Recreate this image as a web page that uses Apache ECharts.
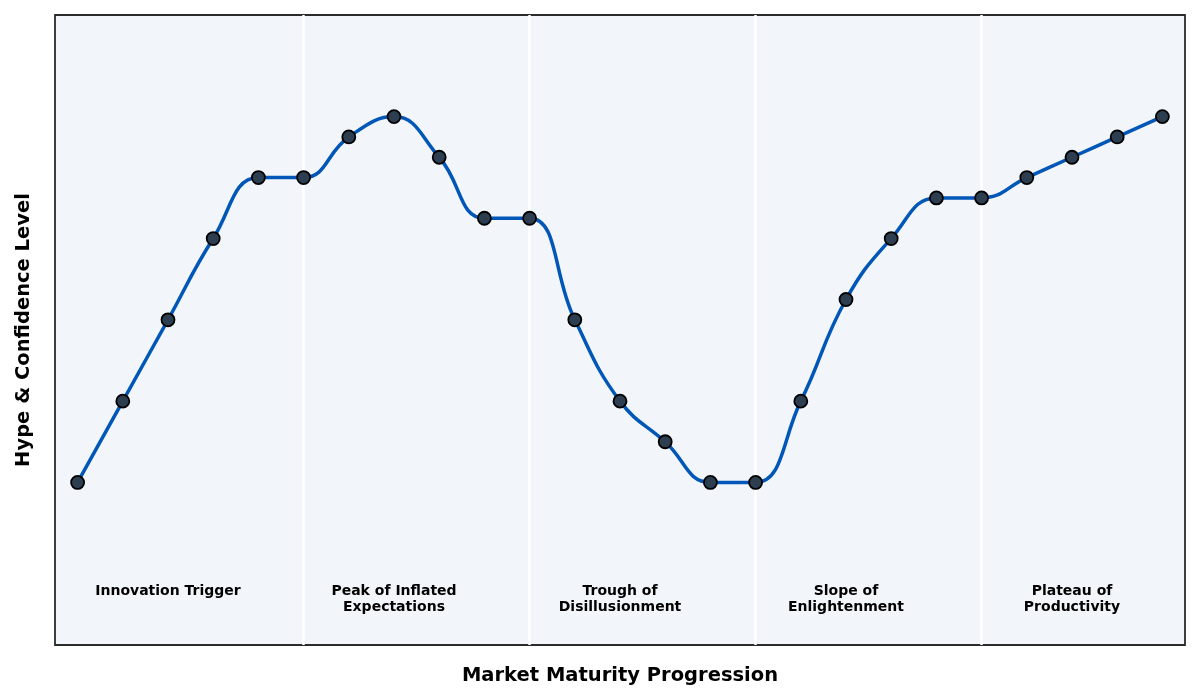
<!DOCTYPE html>
<html>
<head>
<meta charset="utf-8">
<script src="https://cdn.jsdelivr.net/npm/echarts@6/dist/echarts.min.js"></script>
<style>
  html, body { margin: 0; padding: 0; background: #fff; }
  #chart { width: 1200px; height: 700px; }
</style>
</head>
<body>
<div id="chart"></div>
<script>
// hype level at each step along the market maturity progression
const hype = [20, 40, 60, 80, 95, 95, 105, 110, 100, 85, 85, 60, 40, 30, 20, 20, 40, 65, 80, 90, 90, 95, 100, 105, 110];
const stages = ['Innovation Trigger', 'Peak of Inflated\nExpectations', 'Trough of\nDisillusionment', 'Slope of\nEnlightenment', 'Plateau of\nProductivity'];
const stageCenters = [2, 7, 12, 17, 22];
const stageBounds = [5, 10, 15, 20];
const labelLevel = -4.8;

const font = 'DejaVu Sans';

let myChart = echarts.init(document.getElementById('chart'));

myChart.setOption({
  animation: false,
  grid: {
    left: 55, right: 15, top: 15, bottom: 55,
    show: true,
    backgroundColor: '#f2f6fa',
    borderColor: '#2b2b2b',
    borderWidth: 1.8
  },
  xAxis: {
    type: 'value',
    min: -0.5,
    max: 24.5,
    name: 'Market Maturity Progression',
    nameLocation: 'middle',
    nameGap: 21,
    nameTextStyle: { fontFamily: font, fontWeight: 'bold', fontSize: 19.5, color: '#000' },
    axisLine: { show: false },
    axisTick: { show: false },
    axisLabel: { show: false },
    splitLine: { show: false }
  },
  yAxis: {
    type: 'value',
    min: -20,
    max: 135,
    name: 'Hype & Confidence Level',
    nameLocation: 'middle',
    nameGap: 21,
    nameTextStyle: { fontFamily: font, fontWeight: 'bold', fontSize: 19.5, color: '#000' },
    axisLine: { show: false },
    axisTick: { show: false },
    axisLabel: { show: false },
    splitLine: { show: false }
  },
  series: [
    {
      // phase separators, kept under the curve
      type: 'line',
      data: [],
      z: 1,
      markLine: {
        silent: true,
        z: 1,
        symbol: 'none',
        label: { show: false },
        lineStyle: { color: '#fff', width: 2.5, type: 'solid' },
        data: stageBounds.map(x => ({ xAxis: x }))
      }
    },
    {
      type: 'line',
      data: hype.map((v, i) => [i, v]),
      smooth: 0.45,
      symbol: 'circle',
      symbolSize: 13,
      lineStyle: { color: '#0057b7', width: 3.5 },
      itemStyle: { color: '#2c3e50', borderColor: '#000', borderWidth: 1.8 },
      z: 3
    },
    {
      type: 'scatter',
      symbolSize: 0,
      silent: true,
      itemStyle: { opacity: 1 },
      data: stages.map((s, i) => ({ name: s, value: [stageCenters[i], labelLevel] })),
      label: {
        show: true,
        position: 'bottom',
        distance: 0,
        align: 'center',
        formatter: p => p.name,
        fontFamily: font,
        fontWeight: 'bold',
        fontSize: 14,
        lineHeight: 16,
        color: '#000'
      },
      z: 4
    }
  ]
});
</script>
</body>
</html>
